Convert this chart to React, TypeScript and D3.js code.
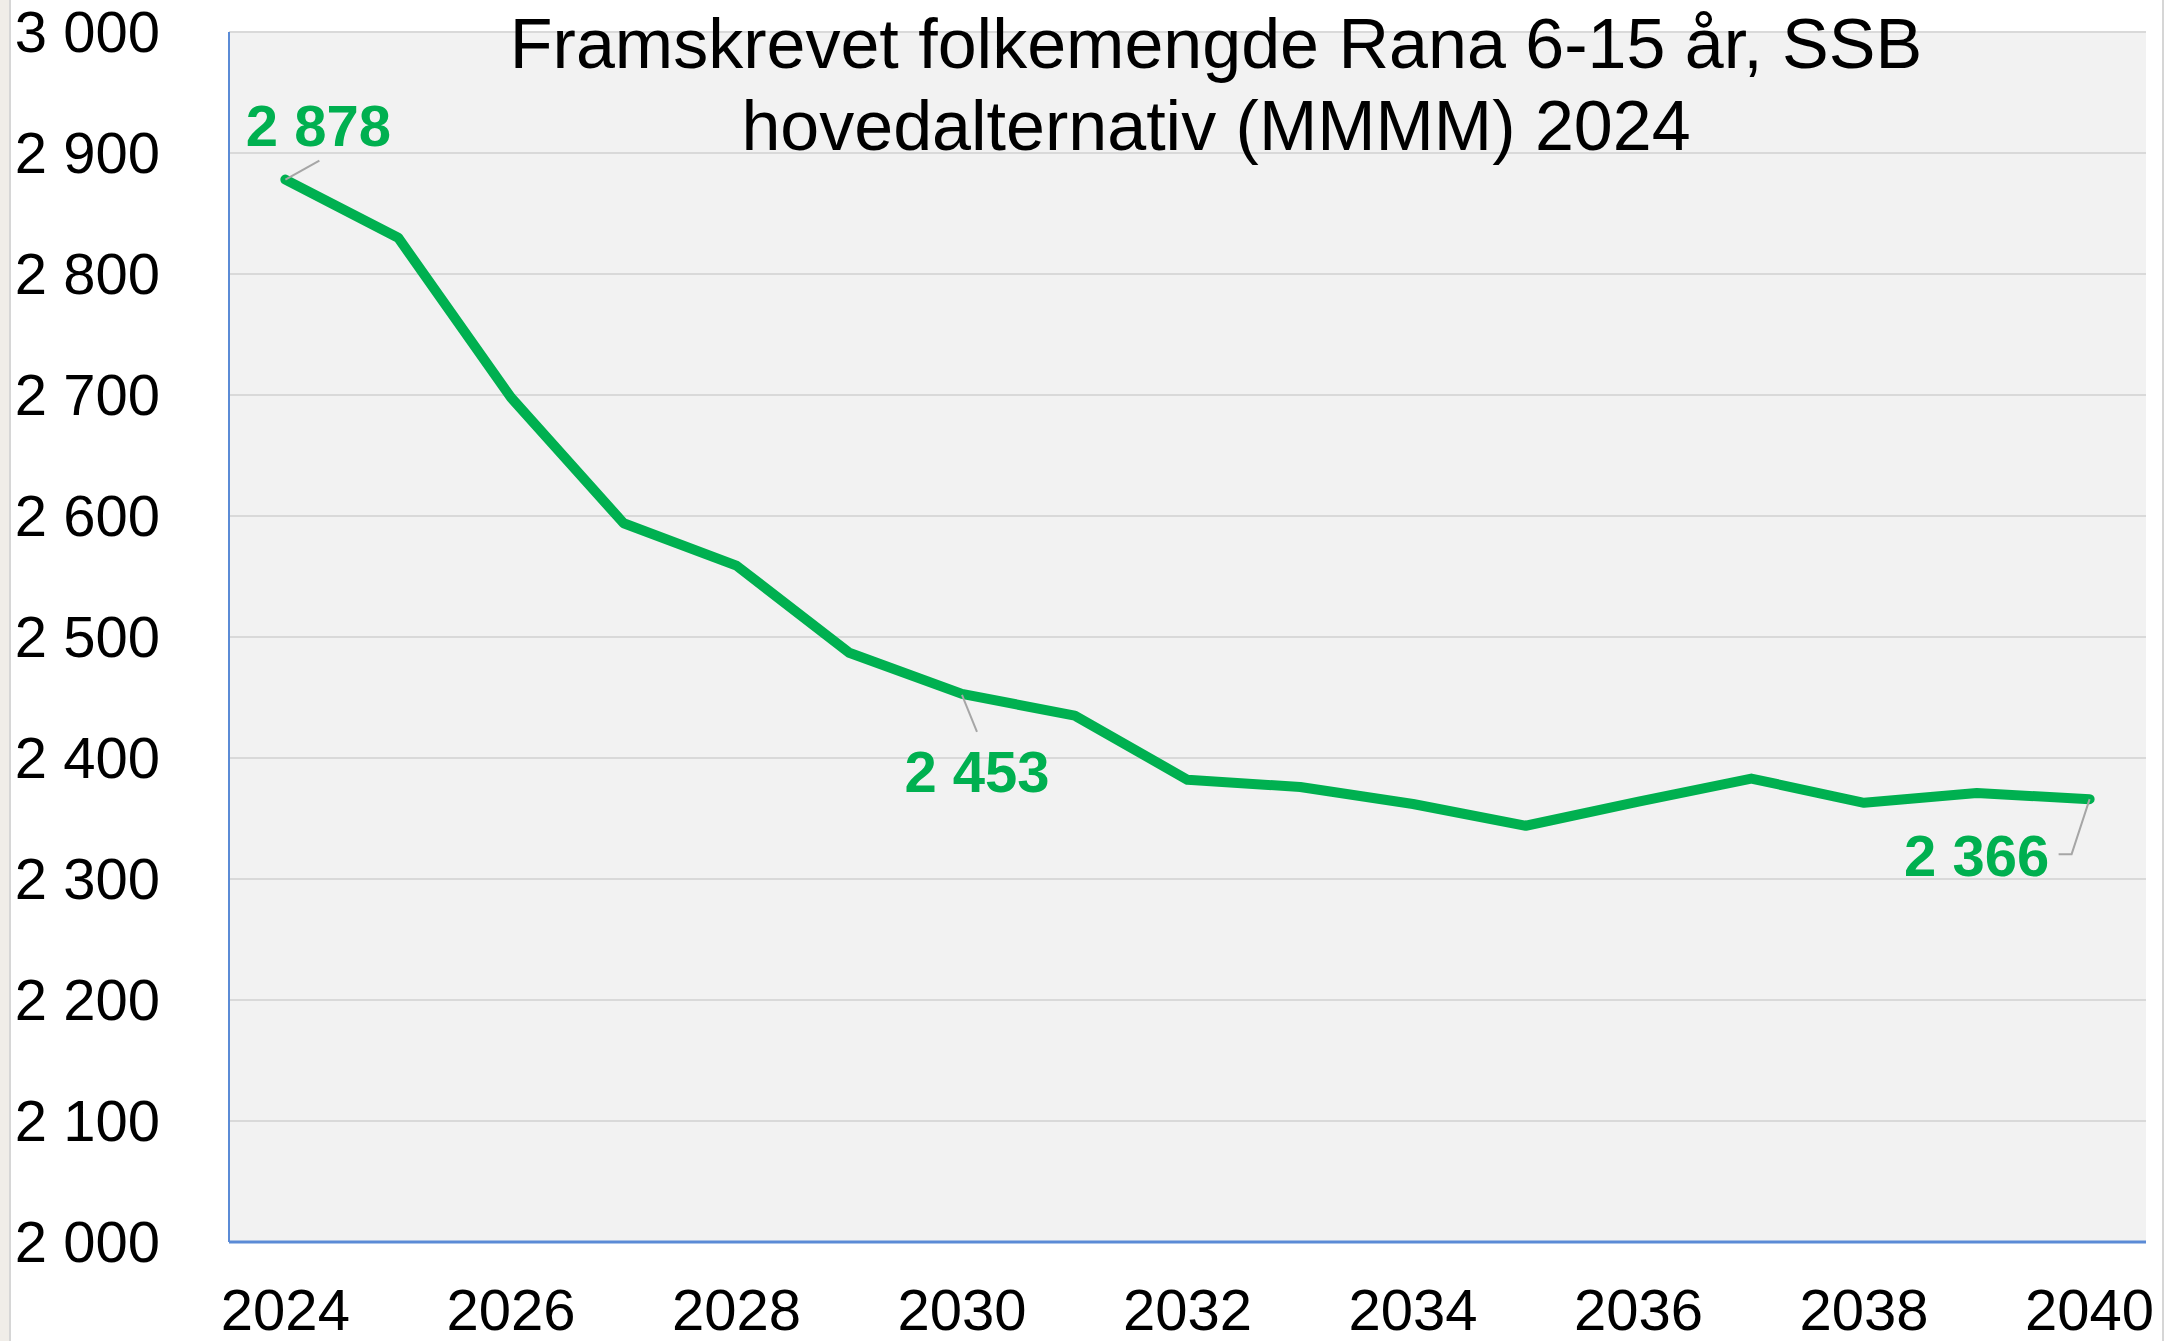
import React, { useRef, useEffect } from "react";
import * as d3 from "d3";

const years = [
  2024, 2025, 2026, 2027, 2028, 2029, 2030, 2031, 2032, 2033, 2034, 2035,
  2036, 2037, 2038, 2039, 2040,
];
const values = [
  2878, 2830, 2698, 2594, 2559, 2487, 2453, 2435, 2382, 2376, 2362, 2344,
  2364, 2383, 2363, 2371, 2366,
];
const yTicks = [2000, 2100, 2200, 2300, 2400, 2500, 2600, 2700, 2800, 2900, 3000];
const xTickYears = [2024, 2026, 2028, 2030, 2032, 2034, 2036, 2038, 2040];
const labelledYears = [2024, 2030, 2040];
const titleLines = [
  "Framskrevet folkemengde Rana 6-15 år, SSB",
  "hovedalternativ (MMMM) 2024",
];

const App = () => {
  const svgRef = useRef<SVGSVGElement>(null);

  useEffect(() => {
    const width = 2169;
    const height = 1341;
    const left = 229;
    const right = 2146;
    const top = 32;
    const bottom = 1242;
    const font = "'Liberation Sans', Arial, sans-serif";
    const green = "#00b050";

    const svg = d3.select(svgRef.current);
    svg.selectAll("*").remove();
    svg.attr("width", width).attr("height", height);

    const fmt = d3
      .formatLocale({ decimal: ",", thousands: " ", grouping: [3], currency: ["", ""] })
      .format(",d");

    const x = d3.scaleBand<number>().domain(years).range([left, right]);
    const cx = (yr: number) => (x(yr) as number) + x.bandwidth() / 2;
    const y = d3.scaleLinear().domain([2000, 3000]).range([bottom, top]);

    // outer frame bits
    svg.append("rect").attr("x", 0).attr("y", 0).attr("width", width).attr("height", height).attr("fill", "#fff");
    svg.append("rect").attr("x", 0).attr("y", 0).attr("width", 9).attr("height", height).attr("fill", "#f0ede8");
    svg.append("line").attr("x1", 10).attr("x2", 10).attr("y1", 0).attr("y2", height).attr("stroke", "#d6d6d6").attr("stroke-width", 2);
    svg.append("line").attr("x1", 2163).attr("x2", 2163).attr("y1", 0).attr("y2", height).attr("stroke", "#d6d6d6").attr("stroke-width", 2);

    // plot background
    svg.append("rect").attr("x", left).attr("y", top).attr("width", right - left).attr("height", bottom - top).attr("fill", "#f2f2f2");

    // gridlines
    svg
      .append("g")
      .selectAll("line")
      .data(yTicks.filter((t) => t > 2000))
      .enter()
      .append("line")
      .attr("x1", left)
      .attr("x2", right)
      .attr("y1", (d) => y(d))
      .attr("y2", (d) => y(d))
      .attr("stroke", "#d9d9d9")
      .attr("stroke-width", 2);

    // axes lines
    svg.append("line").attr("x1", left).attr("x2", left).attr("y1", top).attr("y2", bottom).attr("stroke", "#5b8bd6").attr("stroke-width", 2);
    svg.append("line").attr("x1", left).attr("x2", right).attr("y1", bottom).attr("y2", bottom).attr("stroke", "#5b8bd6").attr("stroke-width", 3);

    // y labels
    svg
      .append("g")
      .selectAll("text")
      .data(yTicks)
      .enter()
      .append("text")
      .attr("x", 160)
      .attr("y", (d) => y(d) + 20)
      .attr("text-anchor", "end")
      .attr("font-family", font)
      .attr("font-size", 58)
      .attr("fill", "#000")
      .text((d) => fmt(d));

    // x labels
    svg
      .append("g")
      .selectAll("text")
      .data(xTickYears)
      .enter()
      .append("text")
      .attr("x", (d) => cx(d))
      .attr("y", 1330)
      .attr("text-anchor", "middle")
      .attr("font-family", font)
      .attr("font-size", 58)
      .attr("fill", "#000")
      .text((d) => String(d));

    // title
    svg
      .append("g")
      .selectAll("text")
      .data(titleLines)
      .enter()
      .append("text")
      .attr("x", 1216)
      .attr("y", (_, i) => 68 + i * 82)
      .attr("text-anchor", "middle")
      .attr("font-family", font)
      .attr("font-size", 70)
      .attr("fill", "#000")
      .text((d) => d);

    const pts = years.map((yr, i) => ({ yr, v: values[i] }));

    // line
    const line = d3
      .line<{ yr: number; v: number }>()
      .x((d) => cx(d.yr))
      .y((d) => y(d.v));
    svg
      .append("path")
      .datum(pts)
      .attr("d", line)
      .attr("fill", "none")
      .attr("stroke", green)
      .attr("stroke-width", 10)
      .attr("stroke-linejoin", "round")
      .attr("stroke-linecap", "round");

    // data labels with leader lines (offsets relative to the point)
    const labelPos: Record<number, { dx: number; dy: number; leader: [number, number][] }> = {
      2024: { dx: 33, dy: -34, leader: [[0, 0], [34, -19]] },
      2030: { dx: 15, dy: 98, leader: [[0, 1], [15, 38]] },
      2040: { dx: -113, dy: 77, leader: [[0, 0], [-18, 55], [-31, 55]] },
    };
    const labelled = pts.filter((p) => labelledYears.includes(p.yr));
    labelled.forEach((p) => {
      const px = cx(p.yr);
      const py = y(p.v);
      const pos = labelPos[p.yr];
      svg
        .append("path")
        .attr("d", d3.line()(pos.leader.map(([a, b]) => [px + a, py + b])))
        .attr("fill", "none")
        .attr("stroke", "#a6a6a6")
        .attr("stroke-width", 2);
      svg
        .append("text")
        .attr("x", px + pos.dx)
        .attr("y", py + pos.dy)
        .attr("text-anchor", "middle")
        .attr("font-family", font)
        .attr("font-weight", "bold")
        .attr("font-size", 58)
        .attr("fill", green)
        .text(fmt(p.v));
    });
  }, []);

  return (
    <div style={{ position: "absolute", left: 0, top: 0 }}>
      <svg ref={svgRef}></svg>
    </div>
  );
};

export default App;
